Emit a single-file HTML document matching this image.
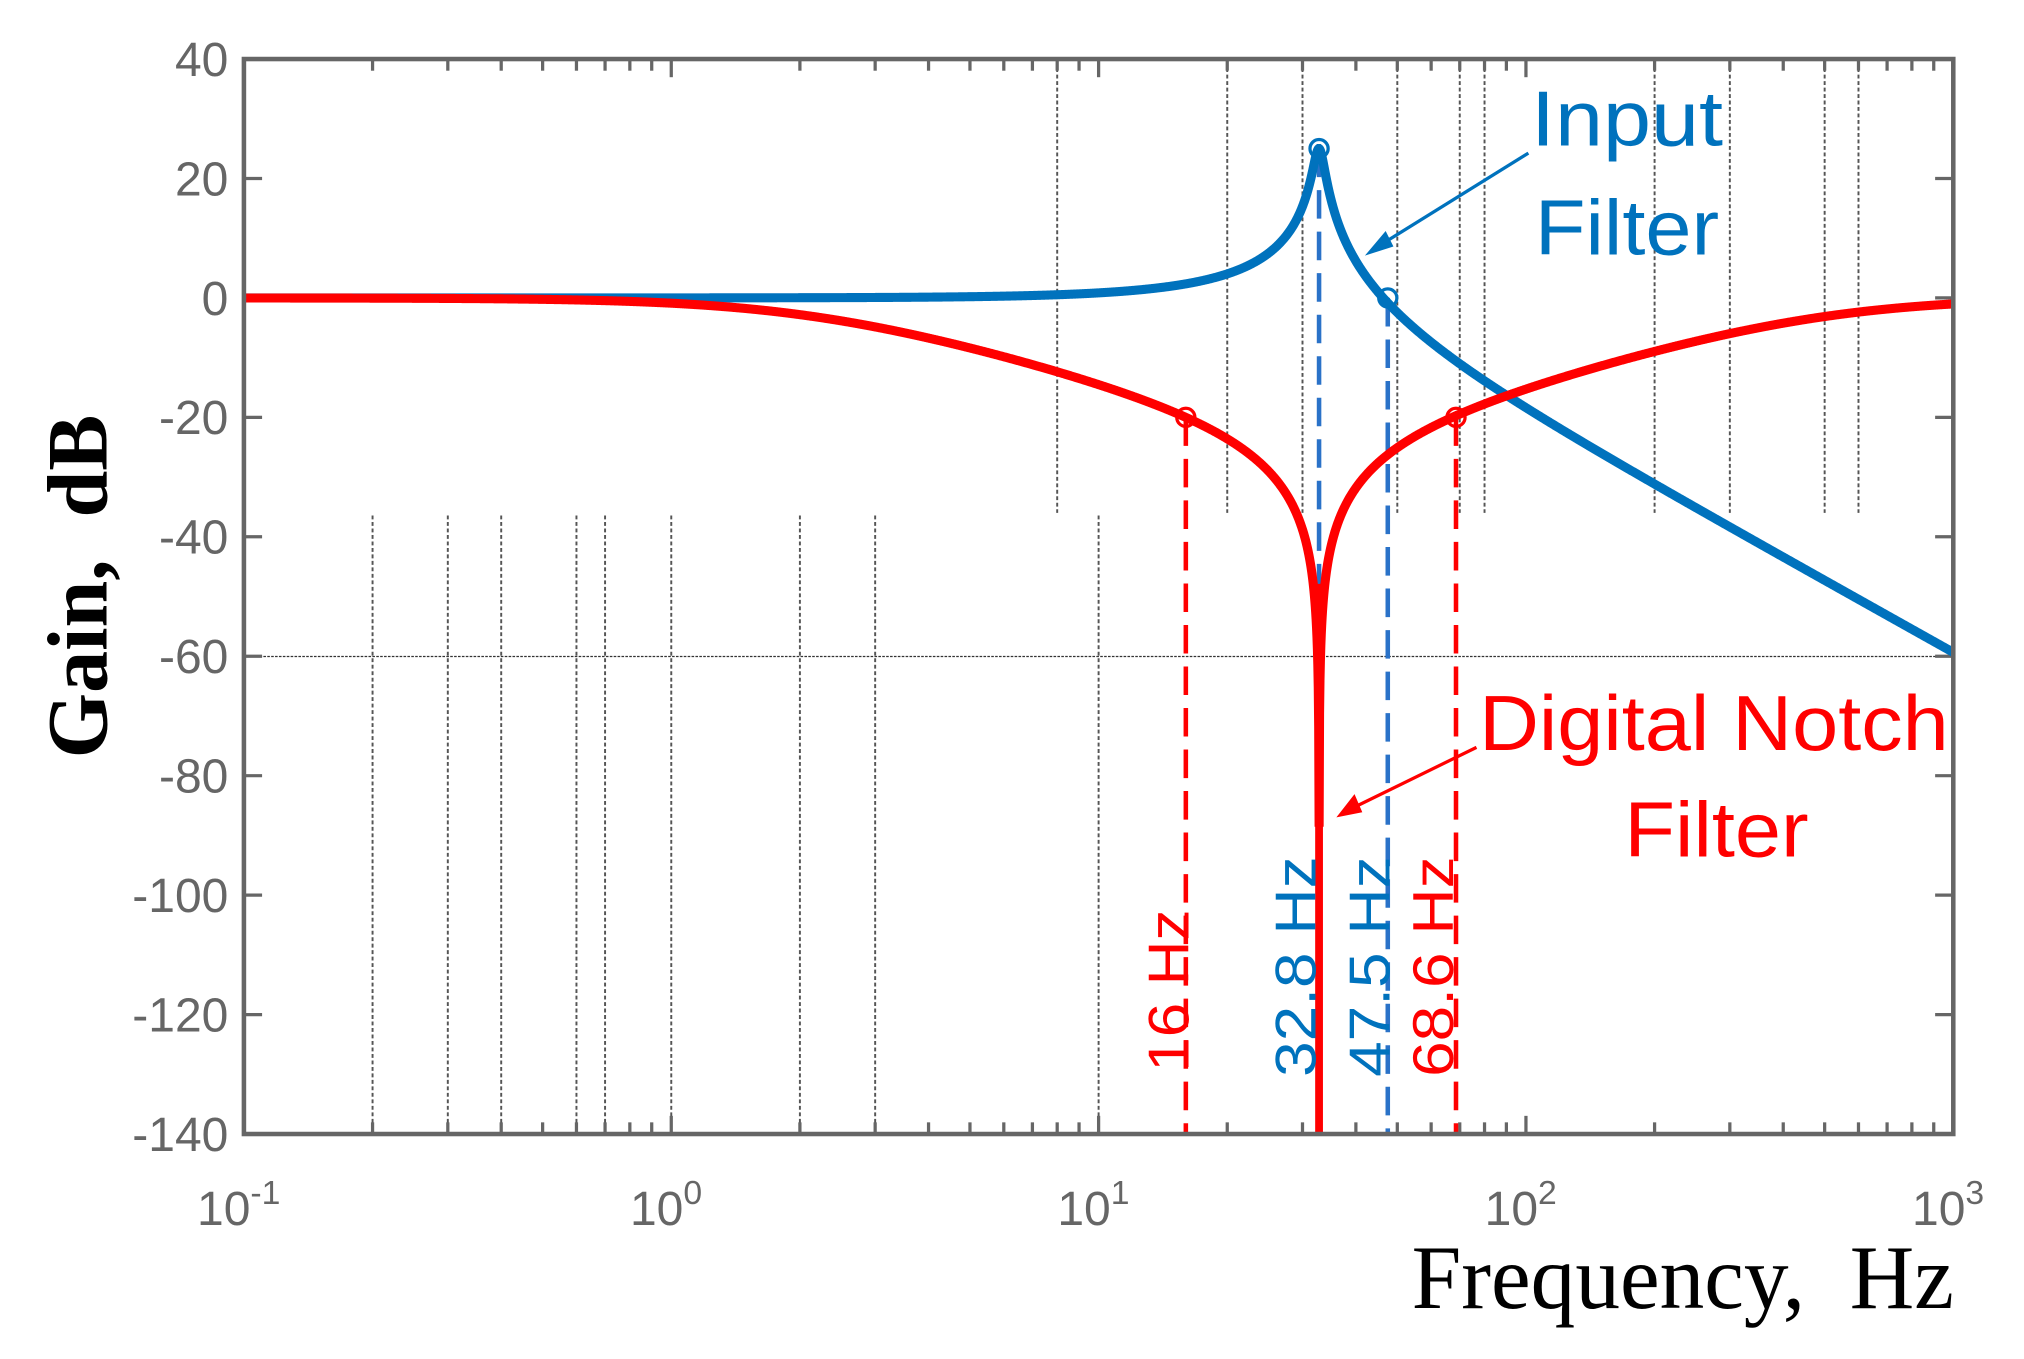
<!DOCTYPE html>
<html><head><meta charset="utf-8"><style>
html,body{margin:0;padding:0;background:#fff;overflow:hidden}
svg{display:block}
</style></head><body>
<svg id="s" width="2024" height="1359" viewBox="0 0 1560 1047.4" preserveAspectRatio="none" xmlns="http://www.w3.org/2000/svg">
<rect width="1560" height="1048" fill="#fff"/>
<g id="grid" stroke="#555" stroke-width="1.5" stroke-dasharray="3,2"></g>
<line x1="188" y1="506" x2="1505" y2="506" stroke="#333" stroke-width="1" stroke-dasharray="2,1"/>
<g id="ticks" stroke="#666" stroke-width="2.5"></g>
<g font-family="Liberation Sans, sans-serif" font-size="37" fill="#666" text-anchor="end" id="ylab"></g>
<g font-family="Liberation Sans, sans-serif" font-size="37" fill="#666" text-anchor="middle" id="xlab"></g>
<g id="dash" stroke-width="3.5" stroke-dasharray="22,10" fill="none"></g>
<path id="blue" fill="none" stroke="#0072BD" stroke-width="7"/>
<path id="red" fill="none" stroke="#f00" stroke-width="7"/>
<g id="mk" fill="none" stroke-width="2.5"></g>
<rect x="188" y="45.5" width="1317.5" height="828.5" fill="none" stroke="#666" stroke-width="3.5"/>
<g font-family="Liberation Sans, sans-serif" font-size="44">
<text transform="translate(916,826) rotate(-90)" fill="#f00" textLength="125" lengthAdjust="spacingAndGlyphs">16 Hz</text>
<text transform="translate(1014,830) rotate(-90)" fill="#0072BD" textLength="170" lengthAdjust="spacingAndGlyphs">32.8 Hz</text>
<text transform="translate(1071,830) rotate(-90)" fill="#0072BD" textLength="170" lengthAdjust="spacingAndGlyphs">47.5 Hz</text>
<text transform="translate(1120,830) rotate(-90)" fill="#f00" textLength="170" lengthAdjust="spacingAndGlyphs">68.6 Hz</text>
</g>
<g font-family="Liberation Sans, sans-serif" font-size="60">
<text x="1180" y="112" fill="#0072BD" textLength="148" lengthAdjust="spacingAndGlyphs">Input</text>
<text x="1183" y="196" fill="#0072BD" textLength="142" lengthAdjust="spacingAndGlyphs">Filter</text>
<text x="1140" y="578" fill="#f00" textLength="362" lengthAdjust="spacingAndGlyphs">Digital Notch</text>
<text x="1252" y="660" fill="#f00" textLength="142" lengthAdjust="spacingAndGlyphs">Filter</text>
</g>
<line x1="1178" y1="118" x2="1062" y2="190" stroke="#0072BD" stroke-width="2.5"/>
<polygon points="1052,197 1068,178 1074,190" fill="#0072BD"/>
<line x1="1138" y1="576" x2="1040" y2="624" stroke="#f00" stroke-width="2.5"/>
<polygon points="1030,630 1044,612 1050,626" fill="#f00"/>
<text transform="translate(82,452) rotate(-90)" font-family="Liberation Serif, serif" font-weight="bold" font-size="66" text-anchor="middle" textLength="265" lengthAdjust="spacingAndGlyphs">Gain,&#160; dB</text>
<text x="1088" y="1008" font-family="Liberation Serif, serif" font-size="70" textLength="418" lengthAdjust="spacingAndGlyphs">Frequency,&#160; Hz</text>
</svg>
<script>
const NS="http://www.w3.org/2000/svg";
const L=188,R=1505.5,T=45.5,B=874,DEC=(R-L)/4;
const X=f=>L+(Math.log10(f)+1)*DEC, Y=d=>T+(40-d)*(B-T)/180;
function el(p,t,a,txt){const e=document.createElementNS(NS,t);for(const k in a)e.setAttribute(k,a[k]);if(txt!==undefined)e.innerHTML=txt;document.getElementById(p).appendChild(e);return e;}
const ys=Y(-36);
[8,20,30,50,70,80,200,300,500,600].forEach(f=>el("grid","line",{x1:X(f),y1:T+2,x2:X(f),y2:ys}));
[0.2,0.3,0.4,0.6,0.7,1,2,3,10].forEach(f=>el("grid","line",{x1:X(f),y1:ys+2,x2:X(f),y2:B-2}));
for(let d=40;d>=-140;d-=20){const y=Y(d);el("ticks","line",{x1:L,y1:y,x2:L+14,y2:y});el("ticks","line",{x1:R-14,y1:y,x2:R,y2:y});
el("ylab","text",{x:L-12,y:y+13},d);}
for(let e=-1;e<3;e++)for(let m=1;m<10;m++){const x=X(m*Math.pow(10,e));const Ln=m==1?14:9;el("ticks","line",{x1:x,y1:B,x2:x,y2:B-Ln});el("ticks","line",{x1:x,y1:T,x2:x,y2:T+Ln});}
for(let e=-1;e<=3;e++){el("xlab","text",{x:X(Math.pow(10,e))-4,y:B+70},"10<tspan font-size='26' dy='-16'>"+e+"</tspan>");}
el("dash","line",{x1:X(16),y1:Y(-20),x2:X(16),y2:B,stroke:"#f00"});
el("dash","line",{x1:X(68.6),y1:Y(-20),x2:X(68.6),y2:B,stroke:"#f00"});
el("dash","line",{x1:X(32.8),y1:Y(25),x2:X(32.8),y2:B,stroke:"#2a72c8"});
el("dash","line",{x1:X(47.5),y1:Y(0),x2:X(47.5),y2:B,stroke:"#2a72c8"});
el("mk","circle",{cx:X(32.8),cy:Y(25),r:7,stroke:"#0072BD"});
el("mk","circle",{cx:X(47.5),cy:Y(0),r:7,stroke:"#0072BD"});
el("mk","circle",{cx:X(16),cy:Y(-20),r:7,stroke:"#f00"});
el("mk","circle",{cx:X(68.6),cy:Y(-20),r:7,stroke:"#f00"});
const f0=32.8,Q=17.8,Qn=0.0643;let b="",r="";
for(let i=0;i<=4000;i++){const f=Math.pow(10,-1+4*i/4000),w=f/f0,re=1-w*w;
let gb=-10*Math.log10(re*re+(w/Q)*(w/Q));let gr=20*Math.log10(Math.abs(re)+1e-9)-10*Math.log10(re*re+(w/Qn)*(w/Qn));
gb=Math.max(gb,-140);gr=Math.max(gr,-140);b+=(i?"L":"M")+X(f).toFixed(2)+","+Y(gb).toFixed(2);r+=(i?"L":"M")+X(f).toFixed(2)+","+Y(gr).toFixed(2);}
document.getElementById("blue").setAttribute("d",b);document.getElementById("red").setAttribute("d",r);
el("dash","line",{x1:X(32.8),y1:450,x2:X(32.8),y2:B,stroke:"#f00","stroke-dasharray":"none","stroke-width":6});
</script>
</body></html>
